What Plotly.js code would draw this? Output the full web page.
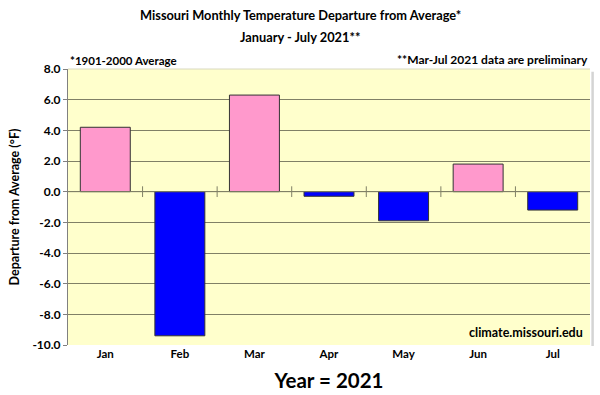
<!DOCTYPE html>
<html><head><meta charset="utf-8">
<script src="https://cdn.plot.ly/plotly-3.0.1.min.js"></script>
<style>body{margin:0;background:#fff}#c{width:600px;height:395px}</style>
</head><body><div id="c"></div>
<script>
const months = ["Jan","Feb","Mar","Apr","May","Jun","Jul"];
const departures = [4.2, -9.4, 6.3, -0.3, -1.9, 1.8, -1.2];
const yTicks = [8, 6, 4, 2, 0, -2, -4, -6, -8, -10];
const titleLines = ["Missouri Monthly Temperature Departure from Average*", "January - July 2021**"];

const colors = departures.map(v => v >= 0 ? "#FF99CC" : "#0000FF");
const xIdx = months.map((m, i) => i);

const fnt = "Lato, 'Open Sans', sans-serif";
const shapes = [];
shapes.push({type:"line", xref:"x", yref:"y", x0:-0.5, x1:months.length-0.5, y0:0, y1:0,
  line:{color:"#808066", width:1}, layer:"above"});
for (let i = 0; i < months.length - 1; i++) {
  shapes.push({type:"line", xref:"x", yref:"y", x0:i+0.5, x1:i+0.5, y0:-0.35, y1:0.35,
    line:{color:"#808066", width:1}, layer:"above"});
}
shapes.push({type:"line", xref:"paper", yref:"paper", x0:1.005, x1:1.005, y0:-0.004, y1:0.99,
  line:{color:"#d4d4d4", width:2.5}});
shapes.push({type:"line", xref:"paper", yref:"paper", x0:0, x1:1, y0:1, y1:1,
  line:{color:"#d8d8c0", width:1}});

Plotly.newPlot("c", [{
  type:"bar", x:xIdx, y:departures, width:0.67,
  marker:{color:colors, line:{color:"#333333", width:1}},
  hoverinfo:"skip"
}], {
  width:600, height:395,
  margin:{l:68, r:10, t:69, b:50},
  paper_bgcolor:"#ffffff", plot_bgcolor:"#FFFFCC",
  showlegend:false,
  xaxis:{range:[-0.5, months.length-0.5], tickvals:xIdx, ticktext:months, showgrid:false,
    zeroline:false, showline:false, ticks:"", tickfont:{family:fnt, size:11.5, color:"#000", weight:"bold"},
    title:{text:"<b>Year = 2021</b>", font:{family:fnt, size:20.5, color:"#000"}, standoff:15}, fixedrange:true},
  yaxis:{range:[-10, 8], tickvals:yTicks, ticktext:yTicks.map(v=>v.toFixed(1)), showgrid:true,
    gridcolor:"#808066", gridwidth:1, zeroline:false, showline:true, linecolor:"#808080", linewidth:1,
    ticks:"outside", ticklen:4, tickcolor:"#808080",
    tickfont:{family:fnt, size:12, color:"#000", weight:"bold"},
    title:{text:"<b>Departure from Average (°F)</b>", font:{family:fnt, size:12.5, color:"#000"}, standoff:10}},
  shapes:shapes,
  annotations:[
    {text:"<b>"+titleLines[0]+"</b>", xref:"paper", yref:"paper", x:0.445, y:1+(69-15)/276, xanchor:"center", yanchor:"middle",
      showarrow:false, font:{family:fnt, size:12.8, color:"#000"}},
    {text:"<b>"+titleLines[1]+"</b>", xref:"paper", yref:"paper", x:0.445, y:1+(69-37)/276, xanchor:"center", yanchor:"middle",
      showarrow:false, font:{family:fnt, size:12.8, color:"#000"}},
    {text:"<b>*1901-2000 Average</b>", xref:"paper", yref:"paper", x:0, y:1, xanchor:"left", yanchor:"bottom",
      showarrow:false, font:{family:fnt, size:11.5, color:"#000"}},
    {text:"<b>**Mar-Jul 2021 data are preliminary</b>", xref:"paper", yref:"paper", x:1, y:1, xanchor:"right", yanchor:"bottom",
      showarrow:false, font:{family:fnt, size:12, color:"#000"}},
    {text:"<b>climate.missouri.edu</b>", xref:"paper", yref:"paper", x:0.99, y:0.01, xanchor:"right", yanchor:"bottom",
      showarrow:false, font:{family:fnt, size:12.5, color:"#000"}}
  ]
}, {staticPlot:true});
</script></body></html>
